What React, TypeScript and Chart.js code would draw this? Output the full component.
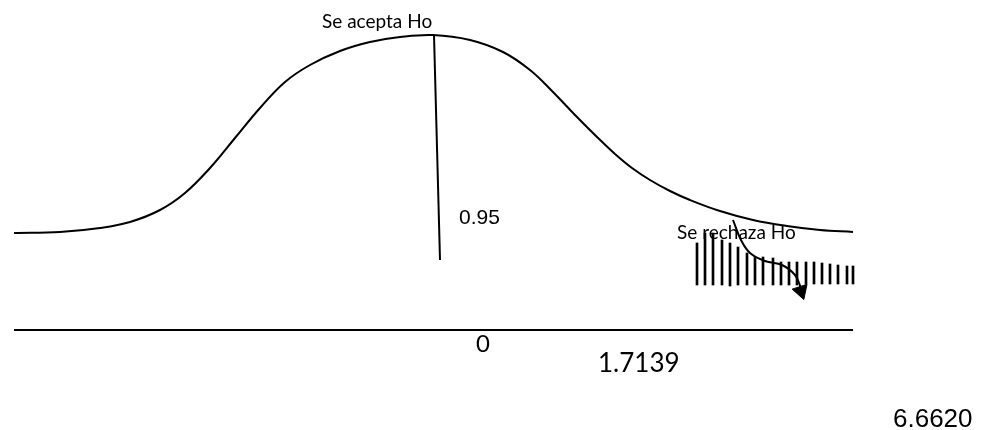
import React, { useEffect, useRef } from "react";
import { Chart, registerables } from "chart.js";

Chart.register(...registerables);

// Plot units: x 0..98.5, y 0..43 (one unit = 10 px on the 985x430 canvas)

// Sketched sampling distribution
const curveX = [1.4, 6.0, 10.0, 13.0, 16.0, 18.5, 21.0, 23.5, 26.0, 28.5, 31.0, 34.0, 37.0, 40.0, 43.3, 47.0, 50.3, 53.0, 55.3, 57.5, 59.7, 61.5, 63.2, 65.0, 67.0, 69.0, 72.0, 75.3, 78.7, 82.0, 85.3];
const curveY = [19.7, 19.8, 20.2, 20.8, 22.0, 23.7, 26.2, 29.2, 32.2, 34.8, 36.5, 37.9, 38.8, 39.3, 39.5, 39.0, 37.8, 36.0, 33.8, 31.5, 29.3, 27.6, 26.2, 25.0, 23.9, 23.0, 21.9, 21.0, 20.4, 20.0, 19.8];

// Divider line dropped from the peak
const dividerX = [43.4, 44.0];
const dividerY = [39.5, 17.0];

// Horizontal axis line
const axisX = [1.4, 85.3];
const axisY = [10.0, 10.0];

// Rejection region hatching (vertical strokes)
const hatchX = [69.7, 70.5, 71.3, 72.2, 73.0, 73.8, 74.7, 75.5, 76.3, 77.3, 78.1, 78.9, 79.7, 80.6, 81.4, 82.2, 83.0, 83.8, 84.7, 85.3];
const hatchTop = [18.7, 19.7, 19.7, 19.0, 18.7, 18.3, 17.7, 17.3, 17.3, 17.2, 16.8, 16.8, 16.8, 16.8, 16.8, 16.7, 16.6, 16.5, 16.4, 16.4];
const hatchLow = [14.5, 14.5, 14.5, 14.5, 14.4, 14.5, 14.5, 14.5, 14.5, 14.5, 14.5, 14.5, 14.5, 14.6, 14.6, 14.6, 14.6, 14.6, 14.6, 14.6];

// Curved arrow pointing into the rejection region
const arrowX = [73.3, 74.1, 75.0, 76.5, 78.2, 79.5, 80.1];
const arrowY = [21.0, 19.0, 17.7, 16.9, 16.5, 15.5, 14.2];
const arrowHeadX = [80.1];
const arrowHeadY = [13.9];

// Annotations
const labelTexts = ["Se acepta Ho", "0.95", "Se rechaza Ho", "0", "1.7139", "6.6620"];
const labelX = [32.2, 45.9, 67.7, 47.6, 59.8, 89.3];
const labelY = [40.2, 20.6, 19.1, 7.8, 5.8, 0.3];
const labelFonts = [
  "19px Lato, 'Open Sans', sans-serif",
  "21px 'Liberation Sans', Arial, sans-serif",
  "19px Lato, 'Open Sans', sans-serif",
  "24px Lato, 'Open Sans', sans-serif",
  "26px Lato, 'Open Sans', sans-serif",
  "26px 'Liberation Sans', Arial, sans-serif",
];

const zip = (xs: number[], ys: number[]) => xs.map((x, i) => ({ x, y: ys[i] }));

const labelsPlugin = {
  id: "sketchLabels",
  beforeDatasetsDraw(chart: any) {
    const { ctx, scales } = chart;
    ctx.save();
    ctx.fillStyle = "#000";
    ctx.textAlign = "left";
    ctx.textBaseline = "alphabetic";
    labelTexts.forEach((t, i) => {
      ctx.font = labelFonts[i];
      ctx.fillText(t, scales.x.getPixelForValue(labelX[i]), scales.y.getPixelForValue(labelY[i]));
    });
    ctx.restore();
  },
};

export default function App() {
  const canvasRef = useRef<HTMLCanvasElement | null>(null);

  useEffect(() => {
    document.body.style.margin = "0";
    const canvas = canvasRef.current;
    if (!canvas) return;

    const lineBase = {
      type: "line" as const,
      borderColor: "#000",
      borderWidth: 2,
      pointRadius: 0,
      pointHoverRadius: 0,
      fill: false,
      clip: false as const,
    };

    const chart = new Chart(canvas, {
      type: "line",
      data: {
        datasets: [
          { ...lineBase, label: "curve", data: zip(curveX, curveY), tension: 0.4 },
          { ...lineBase, label: "divider", data: zip(dividerX, dividerY), tension: 0 },
          { ...lineBase, label: "axis", data: zip(axisX, axisY), tension: 0 },
          {
            type: "bar" as const,
            label: "hatch",
            data: hatchX.map((x, i) => ({ x, y: [hatchLow[i], hatchTop[i]] })) as any,
            backgroundColor: "#000",
            borderWidth: 0,
            barThickness: 2,
            grouped: false,
          },
          { ...lineBase, label: "arrow", data: zip(arrowX, arrowY), tension: 0.4 },
          {
            type: "line" as const,
            label: "arrowHead",
            data: zip(arrowHeadX, arrowHeadY),
            showLine: false,
            pointStyle: "triangle",
            pointRadius: 9,
            pointHoverRadius: 9,
            pointRotation: 162,
            pointBackgroundColor: "#000",
            pointBorderColor: "#000",
            pointBorderWidth: 1,
            clip: false as const,
          },
        ],
      },
      options: {
        animation: false,
        responsive: false,
        maintainAspectRatio: false,
        events: [],
        layout: { padding: 0, autoPadding: false },
        plugins: { legend: { display: false }, tooltip: { enabled: false } },
        scales: {
          x: { type: "linear", min: 0, max: 98.5, offset: false, display: false },
          y: { type: "linear", min: 0, max: 43, display: false },
        },
      },
      plugins: [labelsPlugin],
    });

    return () => chart.destroy();
  }, []);

  return (
    <div style={{ width: 985, height: 430, background: "#fff" }}>
      <canvas ref={canvasRef} width={985} height={430} style={{ display: "block" }} />
    </div>
  );
}
